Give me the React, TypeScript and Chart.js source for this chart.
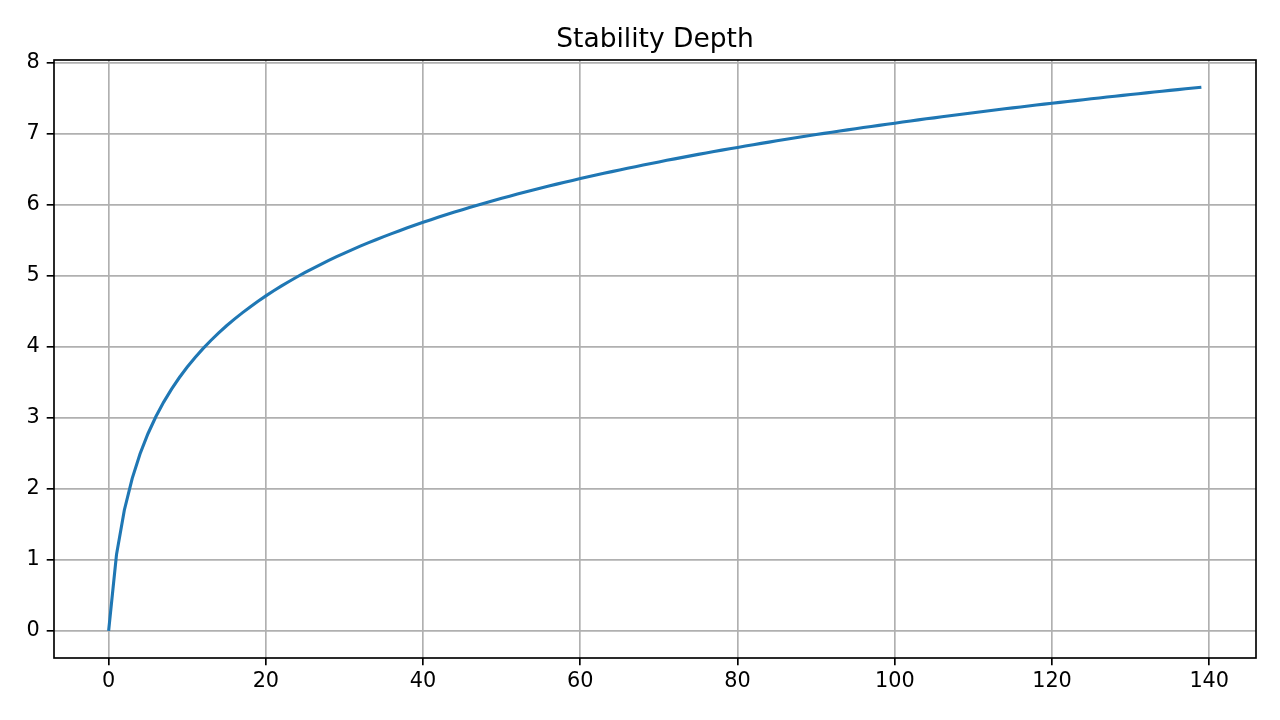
import { useEffect, useRef } from "react"
import { Chart, registerables } from "chart.js"

Chart.register(...registerables)

const chartTitle = "Stability Depth"

// depth at each step 0..139
const depthValues = [
  0, 1.074, 1.703, 2.149, 2.495, 2.777, 3.016, 3.223, 3.406, 3.569,
  3.717, 3.852, 3.976, 4.091, 4.198, 4.298, 4.391, 4.48, 4.564, 4.643,
  4.719, 4.791, 4.86, 4.926, 4.989, 5.05, 5.108, 5.165, 5.219, 5.272,
  5.323, 5.372, 5.42, 5.466, 5.511, 5.554, 5.597, 5.638, 5.679, 5.718,
  5.756, 5.793, 5.83, 5.866, 5.9, 5.934, 5.968, 6.0, 6.032, 6.064,
  6.094, 6.124, 6.154, 6.183, 6.211, 6.239, 6.267, 6.294, 6.32, 6.346,
  6.372, 6.397, 6.422, 6.446, 6.47, 6.494, 6.517, 6.54, 6.563, 6.585,
  6.607, 6.629, 6.65, 6.671, 6.692, 6.713, 6.733, 6.753, 6.773, 6.792,
  6.811, 6.83, 6.849, 6.868, 6.886, 6.904, 6.922, 6.94, 6.957, 6.975,
  6.992, 7.009, 7.026, 7.042, 7.058, 7.075, 7.091, 7.107, 7.122, 7.138,
  7.153, 7.169, 7.184, 7.199, 7.214, 7.228, 7.243, 7.257, 7.272, 7.286,
  7.3, 7.314, 7.327, 7.341, 7.355, 7.368, 7.381, 7.395, 7.408, 7.421,
  7.433, 7.446, 7.459, 7.471, 7.484, 7.496, 7.508, 7.521, 7.533, 7.545,
  7.557, 7.568, 7.58, 7.592, 7.603, 7.615, 7.626, 7.637, 7.648, 7.66,
]

const xTicks = [0, 20, 40, 60, 80, 100, 120, 140]
const yTicks = [0, 1, 2, 3, 4, 5, 6, 7, 8]

const FONT = "'DejaVu Sans', sans-serif"

// full black frame around the plot area, plus the title
const framePlugin = {
  id: "frame",
  afterDraw(chart: Chart) {
    const { ctx, chartArea } = chart
    ctx.save()
    ctx.strokeStyle = "#000"
    ctx.lineWidth = 1.67
    ctx.strokeRect(chartArea.left, chartArea.top, chartArea.right - chartArea.left, chartArea.bottom - chartArea.top)
    ctx.fillStyle = "#000"
    ctx.font = `26.5px ${FONT}`
    ctx.textAlign = "center"
    ctx.textBaseline = "alphabetic"
    ctx.fillText(chartTitle, (chartArea.left + chartArea.right) / 2, chartArea.top - 13)
    ctx.restore()
  },
}

export default function App() {
  const canvasRef = useRef<HTMLCanvasElement>(null)
  const chartRef = useRef<Chart | null>(null)

  useEffect(() => {
    if (!canvasRef.current) return
    document.body.style.margin = "0"
    if (chartRef.current) chartRef.current.destroy()

    const ctx = canvasRef.current.getContext("2d")
    if (!ctx) return

    chartRef.current = new Chart(ctx, {
      type: "line",
      data: {
        datasets: [
          {
            data: depthValues.map((y, i) => ({ x: i, y })),
            borderColor: "#1f77b4",
            borderWidth: 3.1,
            pointRadius: 0,
            tension: 0,
            fill: false,
          },
        ],
      },
      options: {
        animation: false,
        responsive: false,
        devicePixelRatio: 1,
        layout: { padding: { left: 0, right: 24, top: 60, bottom: 0 } },
        plugins: {
          legend: { display: false },
          title: { display: false },
          tooltip: { enabled: false },
        },
        scales: {
          x: {
            type: "linear",
            min: -6.95,
            max: 145.95,
            afterBuildTicks: (scale: any) => {
              scale.ticks = xTicks.map((v) => ({ value: v }))
            },
            afterFit: (scale: any) => {
              scale.height = 62
            },
            grid: { color: "#b0b0b0", lineWidth: 1.67, tickLength: 7.3, tickColor: "#000" },
            border: { display: false },
            ticks: { color: "#000", font: { family: FONT, size: 20.8 }, padding: 4, maxRotation: 0 },
          },
          y: {
            type: "linear",
            min: -0.383,
            max: 8.043,
            afterBuildTicks: (scale: any) => {
              scale.ticks = yTicks.map((v) => ({ value: v }))
            },
            afterFit: (scale: any) => {
              scale.width = 54
            },
            grid: { color: "#b0b0b0", lineWidth: 1.67, tickLength: 7.3, tickColor: "#000" },
            border: { display: false },
            ticks: { color: "#000", font: { family: FONT, size: 20.8 }, padding: 7 },
          },
        },
      },
      plugins: [framePlugin],
    })

    return () => {
      if (chartRef.current) {
        chartRef.current.destroy()
        chartRef.current = null
      }
    }
  }, [])

  return (
    <div style={{ width: 1280, height: 720, background: "#fff" }}>
      <canvas ref={canvasRef} width={1280} height={720} />
    </div>
  )
}
